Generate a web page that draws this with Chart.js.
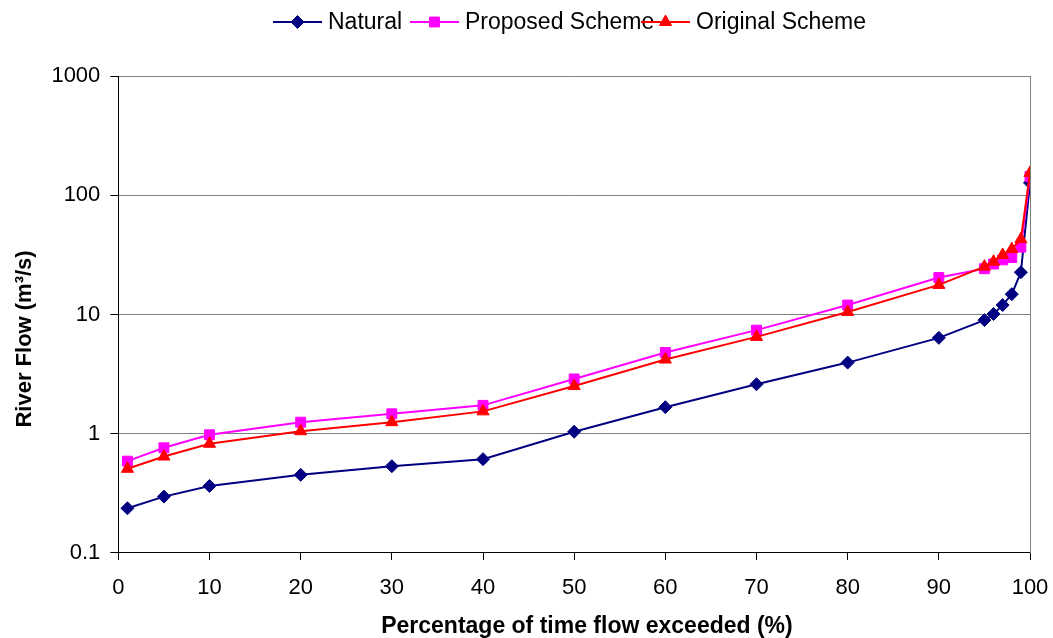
<!DOCTYPE html>
<html>
<head>
<meta charset="utf-8">
<script src="https://cdn.jsdelivr.net/npm/chart.js@4.4.1/dist/chart.umd.min.js"></script>
<style>
  html, body { margin: 0; padding: 0; background: #fff; }
  canvas { display: block; }
</style>
</head>
<body>
<canvas id="myChart" width="1053" height="638"></canvas>
<script>
// percentage of time flow exceeded
var pct = [1, 5, 10, 20, 30, 40, 50, 60, 70, 80, 90, 95, 96, 97, 98, 99, 100];

// river flow (m3/s)
var natural  = [0.237, 0.297, 0.365, 0.452, 0.534, 0.612, 1.04, 1.67, 2.60, 3.95, 6.37, 8.97, 10.1, 12.0, 14.8, 22.6, 127];
var proposed = [0.589, 0.762, 0.98, 1.25, 1.47, 1.73, 2.88, 4.80, 7.39, 12.0, 20.4, 24.2, 26.5, 28.7, 30.0, 36.7, 144];
var original = [0.508, 0.644, 0.824, 1.05, 1.25, 1.54, 2.51, 4.19, 6.49, 10.5, 17.7, 25.2, 27.7, 31.6, 35.3, 42.8, 154];

var seriesNames = ['Natural', 'Proposed Scheme', 'Original Scheme'];
var yTicks = [0.1, 1, 10, 100, 1000];

var FONT = "'Liberation Sans', Arial, sans-serif";

function toPoints(values) {
    return values.map(function (v, i) {
        return { x: pct[i], y: v };
    });
}

var styles = [
    { color: '#000080', point: 'rectRot',  radius: 6.5 },
    { color: '#FF00FF', point: 'rect',     radius: 7 },
    { color: '#FF0000', point: 'triangle', radius: 7 }
];

var datasets = [natural, proposed, original].map(function (vals, i) {
    return {
        label: seriesNames[i],
        data: toPoints(vals),
        borderColor: styles[i].color,
        backgroundColor: styles[i].color,
        borderWidth: 2,
        pointStyle: styles[i].point,
        pointRadius: styles[i].radius,
        pointBorderWidth: 1,
        pointBackgroundColor: styles[i].color,
        pointBorderColor: styles[i].color,
        tension: 0,
        order: 2 - i
    };
});

// Excel-like legend: line + marker + text, in one row at the top
var legendPlugin = {
    id: 'excelLegend',
    afterDraw: function (chart) {
        var ctx = chart.ctx;
        var pos = [273, 410, 641];
        ctx.save();
        pos.forEach(function (x0, i) {
            var st = styles[i];
            ctx.strokeStyle = st.color;
            ctx.lineWidth = 2;
            ctx.beginPath();
            ctx.moveTo(x0, 22);
            ctx.lineTo(x0 + 49, 22);
            ctx.stroke();
            ctx.fillStyle = st.color;
            ctx.lineWidth = 1;
            Chart.helpers.drawPoint(ctx, {
                pointStyle: st.point, radius: st.radius, rotation: 0, borderWidth: 1
            }, x0 + 24.5, 22);
            ctx.fillStyle = '#000';
            ctx.font = '23px ' + FONT;
            ctx.textBaseline = 'alphabetic';
            ctx.textAlign = 'left';
            ctx.fillText(seriesNames[i], x0 + 55, 28.5);
        });
        ctx.restore();
    }
};

// grey frame on the right side of the plot area
var framePlugin = {
    id: 'frame',
    beforeDatasetsDraw: function (chart) {
        var a = chart.chartArea, ctx = chart.ctx;
        ctx.save();
        ctx.strokeStyle = '#808080';
        ctx.lineWidth = 1;
        ctx.beginPath();
        ctx.moveTo(Math.round(a.right) + 0.5, a.top);
        ctx.lineTo(Math.round(a.right) + 0.5, a.bottom);
        ctx.stroke();
        ctx.restore();
    }
};

var myChart = new Chart(document.getElementById('myChart').getContext('2d'), {
    type: 'line',
    data: { datasets: datasets },
    plugins: [legendPlugin, framePlugin],
    options: {
        responsive: false,
        animation: false,
        devicePixelRatio: 1,
        layout: { padding: { top: 76, left: 12, right: 23, bottom: 0 } },
        plugins: {
            legend: { display: false },
            tooltip: { enabled: false }
        },
        scales: {
            x: {
                type: 'linear',
                min: 0,
                max: 100,
                ticks: {
                    stepSize: 10,
                    color: '#000',
                    padding: 3,
                    font: { family: FONT, size: 22, lineHeight: 2.27 }
                },
                grid: {
                    drawOnChartArea: false,
                    tickLength: 7,
                    tickColor: '#000'
                },
                border: { color: '#000', width: 1 },
                title: {
                    display: true,
                    // leading spaces nudge the title right, as in the original
                    text: '    Percentage of time flow exceeded (%)',
                    color: '#000',
                    font: { family: FONT, size: 23, weight: 'bold', lineHeight: 0.96 },
                    padding: { top: 0, bottom: 0 }
                }
            },
            y: {
                type: 'logarithmic',
                min: 0.1,
                max: 1000,
                afterBuildTicks: function (axis) {
                    axis.ticks = yTicks.map(function (v) { return { value: v }; });
                },
                ticks: {
                    color: '#000',
                    padding: 10,
                    font: { family: FONT, size: 22 },
                    callback: function (v) { return String(v); }
                },
                grid: {
                    color: '#808080',
                    tickLength: 8,
                    tickColor: '#000'
                },
                border: { color: '#000', width: 1 },
                title: {
                    display: true,
                    // trailing spaces nudge the title down, as in the original
                    text: 'River Flow (m³/s)        ',
                    color: '#000',
                    font: { family: FONT, size: 22, weight: 'bold' },
                    padding: { top: 0, bottom: 3 }
                }
            }
        }
    }
});
</script>
</body>
</html>
